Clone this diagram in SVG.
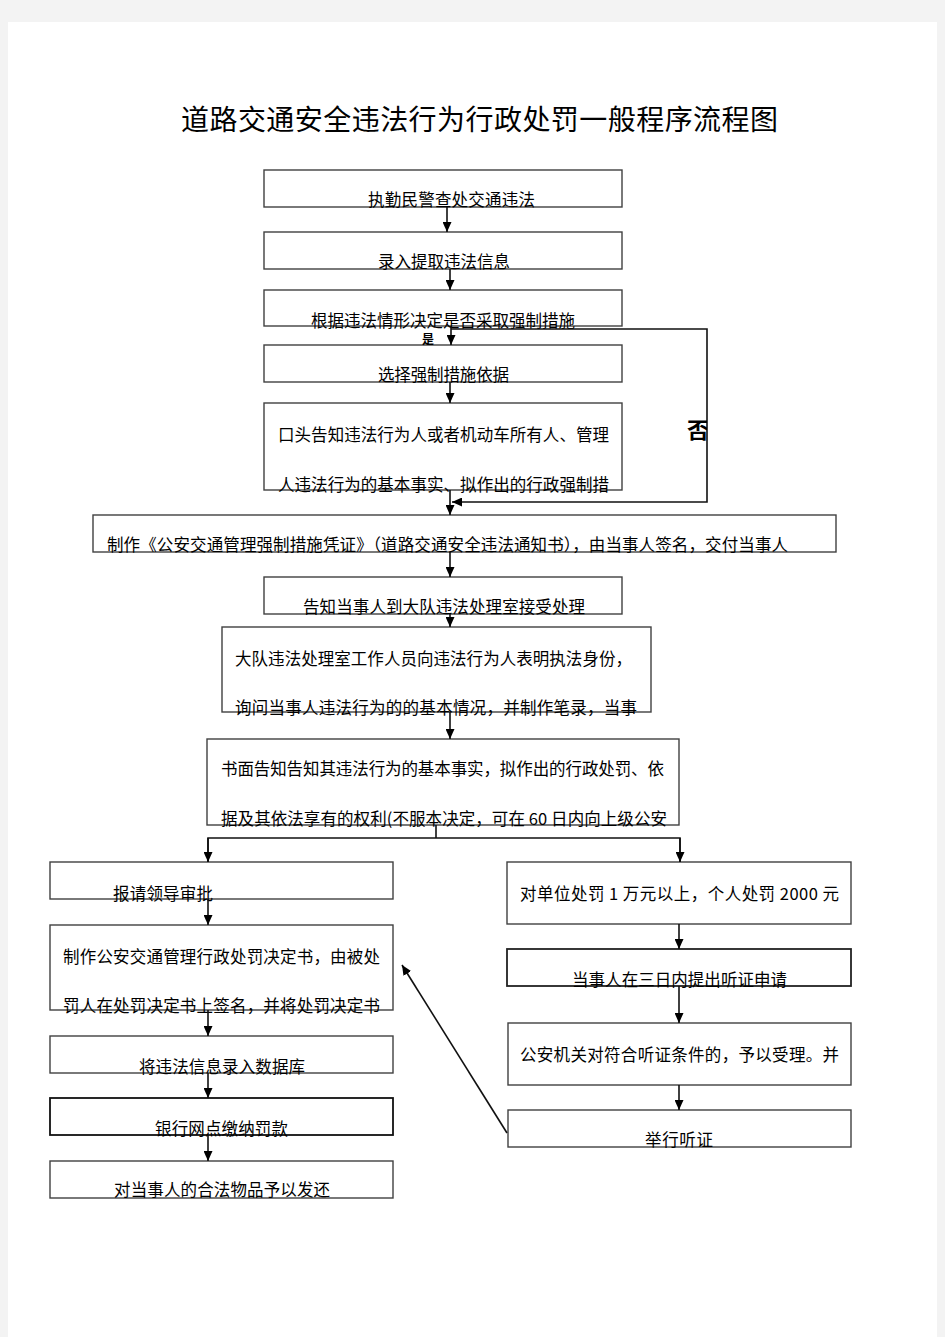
<svg xmlns="http://www.w3.org/2000/svg" width="945" height="1337" viewBox="0 0 945 1337">
<style>
.t{font-family:"Noto Sans CJK SC","Noto Sans",sans-serif;font-size:16.5px;fill:#000}
.ti{font-family:"Noto Sans CJK SC","Noto Sans",sans-serif;font-size:28px;fill:#000}
.b{fill:#fff;stroke:#404040;stroke-width:1.4}
.c{fill:none;stroke:#111;stroke-width:1.6}
.lb{font-family:"Noto Sans CJK SC","Noto Sans",sans-serif;fill:#000}
</style>
<defs>
<marker id="ah" markerUnits="userSpaceOnUse" markerWidth="10" markerHeight="9" refX="10" refY="4.5" orient="auto">
<path d="M0,0 L10,4.5 L0,9 z" fill="#000"/>
</marker>
<clipPath id="cf"><rect x="680" y="400" width="27" height="60"/></clipPath>
</defs>
<rect x="0" y="0" width="945" height="1337" fill="#f3f3f3"/>
<rect x="8" y="22" width="929" height="1315" fill="#fff"/>
<text class="ti" x="181" y="130" textLength="597" lengthAdjust="spacing">道路交通安全违法行为行政处罚一般程序流程图</text>

<g id="n1"><rect class="b" x="264" y="170" width="358" height="37"/><text class="t" x="368" y="206" textLength="167" lengthAdjust="spacing">执勤民警查处交通违法</text></g>
<g id="n2"><rect class="b" x="264" y="232" width="358" height="37"/><text class="t" x="378" y="268" textLength="132" lengthAdjust="spacing">录入提取违法信息</text></g>
<g id="n3"><rect class="b" x="264" y="290" width="358" height="36"/><text class="t" x="311" y="327" textLength="264" lengthAdjust="spacing">根据违法情形决定是否采取强制措施</text></g>
<g id="n4"><rect class="b" x="264" y="345" width="358" height="37"/><text class="t" x="378" y="381" textLength="131" lengthAdjust="spacing">选择强制措施依据</text></g>
<g id="n5"><rect class="b" x="264" y="403" width="358" height="87"/>
<text class="t" x="278" y="441" textLength="331" lengthAdjust="spacing">口头告知违法行为人或者机动车所有人、管理</text>
<text class="t" x="278" y="491" textLength="331" lengthAdjust="spacing">人违法行为的基本事实、拟作出的行政强制措</text></g>
<g id="n6"><rect class="b" x="93" y="515" width="743" height="37"/><text class="t" x="107" y="551" textLength="681" lengthAdjust="spacing">制作《公安交通管理强制措施凭证》（道路交通安全违法通知书），由当事人签名，交付当事人</text></g>
<g id="n7"><rect class="b" x="264" y="577" width="358" height="37"/><text class="t" x="303" y="613" textLength="282" lengthAdjust="spacing">告知当事人到大队违法处理室接受处理</text></g>
<g id="n8"><rect class="b" x="222" y="627" width="429" height="85"/>
<text class="t" x="235" y="665" textLength="397" lengthAdjust="spacing">大队违法处理室工作人员向违法行为人表明执法身份，</text>
<text class="t" x="235" y="714" textLength="402" lengthAdjust="spacing">询问当事人违法行为的的基本情况，并制作笔录，当事</text></g>
<g id="n9"><rect class="b" x="207" y="739" width="472" height="86"/>
<text class="t" x="221" y="775" textLength="443" lengthAdjust="spacing">书面告知告知其违法行为的基本事实，拟作出的行政处罚、依</text>
<text class="t" x="221" y="825" textLength="446" lengthAdjust="spacing">据及其依法享有的权利(不服本决定，可在 60 日内向上级公安</text></g>
<g id="n10"><rect class="b" x="50" y="862" width="343" height="37"/><text class="t" x="113" y="900" textLength="100" lengthAdjust="spacing">报请领导审批</text></g>
<g id="n11"><rect class="b" x="50" y="925" width="343" height="85"/>
<text class="t" x="63" y="963" textLength="317" lengthAdjust="spacing">制作公安交通管理行政处罚决定书，由被处</text>
<text class="t" x="63" y="1012" textLength="317" lengthAdjust="spacing">罚人在处罚决定书上签名，并将处罚决定书</text></g>
<g id="n12"><rect class="b" x="50" y="1036" width="343" height="37"/><text class="t" x="139" y="1073" textLength="166" lengthAdjust="spacing">将违法信息录入数据库</text></g>
<g id="n13"><rect class="b" x="50" y="1098" width="343" height="37" style="stroke:#111;stroke-width:1.8"/><text class="t" x="155" y="1135" textLength="133" lengthAdjust="spacing">银行网点缴纳罚款</text></g>
<g id="n14"><rect class="b" x="50" y="1161" width="343" height="37"/><text class="t" x="114" y="1196" textLength="216" lengthAdjust="spacing">对当事人的合法物品予以发还</text></g>
<g id="r1"><rect class="b" x="507" y="862" width="344" height="62"/><text class="t" x="520" y="900" textLength="319" lengthAdjust="spacing">对单位处罚 1 万元以上，个人处罚 2000 元</text></g>
<g id="r2"><rect class="b" x="507" y="949" width="344" height="37" style="stroke:#222;stroke-width:1.8"/><text class="t" x="572" y="986" textLength="215" lengthAdjust="spacing">当事人在三日内提出听证申请</text></g>
<g id="r3"><rect class="b" x="508" y="1023" width="343" height="62"/><text class="t" x="520" y="1061" textLength="319" lengthAdjust="spacing">公安机关对符合听证条件的，予以受理。并</text></g>
<g id="r4"><rect class="b" x="508" y="1110" width="343" height="37"/><text class="t" x="645" y="1146" textLength="68" lengthAdjust="spacing">举行听证</text></g>

<g id="connectors">
<line class="c" x1="447" y1="207" x2="447" y2="232" marker-end="url(#ah)"/>
<line class="c" x1="450" y1="269" x2="450" y2="290" marker-end="url(#ah)"/>
<line class="c" x1="451" y1="326" x2="451" y2="345" marker-end="url(#ah)"/>
<polyline class="c" points="451,329 707,329 707,502 452,502" marker-end="url(#ah)"/>
<line class="c" x1="450" y1="382" x2="450" y2="403" marker-end="url(#ah)"/>
<line class="c" x1="450" y1="490" x2="450" y2="515" marker-end="url(#ah)"/>
<line class="c" x1="450" y1="552" x2="450" y2="577" marker-end="url(#ah)"/>
<line class="c" x1="450" y1="614" x2="450" y2="627" marker-end="url(#ah)"/>
<line class="c" x1="450" y1="712" x2="450" y2="739" marker-end="url(#ah)"/>
<polyline class="c" points="436,825 436,838"/>
<polyline class="c" points="208,862 208,838 680,838 680,862"/>
<line class="c" x1="208" y1="838" x2="208" y2="862" marker-end="url(#ah)"/>
<line class="c" x1="680" y1="838" x2="680" y2="862" marker-end="url(#ah)"/>
<line class="c" x1="208" y1="899" x2="208" y2="925" marker-end="url(#ah)"/>
<line class="c" x1="208" y1="1010" x2="208" y2="1036" marker-end="url(#ah)"/>
<line class="c" x1="208" y1="1073" x2="208" y2="1098" marker-end="url(#ah)"/>
<line class="c" x1="208" y1="1135" x2="208" y2="1161" marker-end="url(#ah)"/>
<line class="c" x1="679" y1="924" x2="679" y2="949" marker-end="url(#ah)"/>
<line class="c" x1="679" y1="986" x2="679" y2="1023" marker-end="url(#ah)"/>
<line class="c" x1="679" y1="1085" x2="679" y2="1110" marker-end="url(#ah)"/>
<line class="c" x1="507" y1="1133" x2="402" y2="965" marker-end="url(#ah)"/>
<text class="lb" x="422" y="344" font-size="12" font-weight="bold">是</text>
<text class="lb" x="687" y="438" font-size="22" font-weight="bold" clip-path="url(#cf)">否</text>
</g>
</svg>
